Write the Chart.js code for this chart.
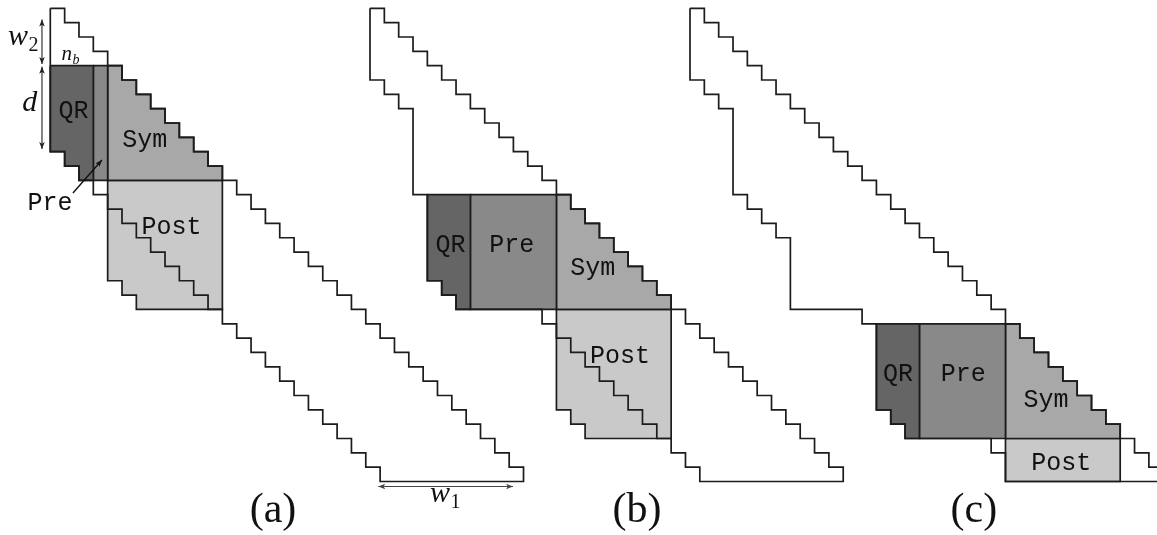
<!DOCTYPE html>
<html><head><meta charset="utf-8">
<script src="https://cdn.jsdelivr.net/npm/chart.js@4.4.0/dist/chart.umd.min.js"></script>
<style>html,body{margin:0;padding:0;background:#fff}#wrap{width:1157px;height:535px}</style>
</head><body><div id="wrap"><canvas id="cv" width="1157" height="535"></canvas></div>
<script>
// ---- data (grid units: one matrix column/row per unit) ----
const BAND_COLS = [0,1,2,3,4,5,6,7,8,9,10,11,12,13,14,15,16,17,18,19,20,21,22,23,24,25,26,27,28,29,30,31,32];
const BAND_TOP  = [0,1,2,3,4,5,6,7,8,9,10,11,12,13,14,15,16,17,18,19,20,21,22,23,24,25,26,27,28,29,30,31,32];
const BAND_BOT_A = [10,11,12,13,14,15,16,17,18,19,20,21,22,23,24,25,26,27,28,29,30,31,32,33,33,33,33,33,33,33,33,33,33];
const BAND_BOT_B = [5,6,7,13,19,20,21,21,21,21,21,21,22,23,24,25,26,27,28,29,30,31,32,33,33,33,33,33,33,33,33,33,33];
const BAND_BOT_C = [5,6,7,13,14,15,16,21,21,21,21,21,22,28,29,30,30,30,30,30,30,31,33,33,33,33,33,33,33,33,33,33,33];

// blocks: columns, column tops, column bottoms
const QR_A   = {cols:[0,1,2], top:[4,4,4], bot:[10,11,12]};
const PRE_A  = {cols:[3], top:[4], bot:[12]};
const SYM_A  = {cols:[4,5,6,7,8,9,10,11], top:[4,5,6,7,8,9,10,11], bot:[12,12,12,12,12,12,12,12]};
const POST_A = {cols:[4,5,6,7,8,9,10,11], top:[12,12,12,12,12,12,12,12], bot:[19,20,21,21,21,21,21,21]};

const QR_B   = {cols:[4,5,6], top:[13,13,13], bot:[19,20,21]};
const PRE_B  = {cols:[7,8,9,10,11,12], top:[13,13,13,13,13,13], bot:[21,21,21,21,21,21]};
const SYM_B  = {cols:[13,14,15,16,17,18,19,20], top:[13,14,15,16,17,18,19,20], bot:[21,21,21,21,21,21,21,21]};
const POST_B = {cols:[13,14,15,16,17,18,19,20], top:[21,21,21,21,21,21,21,21], bot:[28,29,30,30,30,30,30,30]};

const QR_C   = {cols:[13,14,15], top:[22,22,22], bot:[28,29,30]};
const PRE_C  = {cols:[16,17,18,19,20,21], top:[22,22,22,22,22,22], bot:[30,30,30,30,30,30]};
const SYM_C  = {cols:[22,23,24,25,26,27,28,29], top:[22,23,24,25,26,27,28,29], bot:[30,30,30,30,30,30,30,30]};
const POST_C = {cols:[22,23,24,25,26,27,28,29], top:[30,30,30,30,30,30,30,30], bot:[33,33,33,33,33,33,33,33]};

const BLOCK_NAMES = ['QR','Pre','Sym','Post'];
const LABELS_A = [['QR',1.62,7.65],['Sym',6.58,9.65],['Post',8.45,15.74],['Pre',-0.02,14.07]];
const LABELS_B = [['QR',5.61,16.97],['Pre',9.89,16.97],['Sym',15.53,18.6],['Post',17.43,24.76]];
const LABELS_C = [['QR',14.5,25.99],['Pre',19.06,25.99],['Sym',24.83,27.82],['Post',25.89,32.2]];
const CAPTIONS = ['(a)','(b)','(c)'];

// ---- layout / style ----
const W = 1157, H = 535, U = 14.34;
const PANEL_X = [50.3, 370, 690], TOP_Y = 8.3;
const OFF = PANEL_X.map(p => (p - PANEL_X[0]) / U);
const FILL = {QR:'#656565', Pre:'#898989', Sym:'#a8a8a8', Post:'#c9c9c9'};
const LINE = '#1c1c1c';

function poly(cols, tops, bots, off) {
  const pts = [];
  for (let i = 0; i < cols.length; i++) {
    pts.push({x: cols[i] + off, y: tops[i]}, {x: cols[i] + 1 + off, y: tops[i]});
  }
  for (let i = cols.length - 1; i >= 0; i--) {
    pts.push({x: cols[i] + 1 + off, y: bots[i]}, {x: cols[i] + off, y: bots[i]});
  }
  pts.push({x: pts[0].x, y: pts[0].y});
  return pts;
}

const datasets = [];
[BAND_BOT_A, BAND_BOT_B, BAND_BOT_C].forEach((bot, p) => {
  datasets.push({data: poly(BAND_COLS, BAND_TOP, bot, OFF[p]), borderColor: LINE, borderWidth: 1.7,
    fill: false, pointRadius: 0, tension: 0, order: 0});
});
[[QR_A,PRE_A,SYM_A,POST_A],[QR_B,PRE_B,SYM_B,POST_B],[QR_C,PRE_C,SYM_C,POST_C]].forEach((blocks, p) => {
  blocks.forEach((b, k) => {
    datasets.push({data: poly(b.cols, b.top, b.bot, OFF[p]), borderColor: LINE, borderWidth: 1.7,
      backgroundColor: FILL[BLOCK_NAMES[k]], fill: 'shape', pointRadius: 0, tension: 0, order: 1});
  });
});

function arrow(ctx, x1, y1, x2, y2, heads, color, lw) {
  ctx.save();
  ctx.strokeStyle = color; ctx.fillStyle = color; ctx.lineWidth = lw;
  ctx.beginPath(); ctx.moveTo(x1, y1); ctx.lineTo(x2, y2); ctx.stroke();
  const drawHead = (xa, ya, xb, yb) => {
    const a = Math.atan2(yb - ya, xb - xa), L = 7, Wd = 2.8;
    ctx.beginPath();
    ctx.moveTo(xb, yb);
    ctx.lineTo(xb - L * Math.cos(a) + Wd * Math.sin(a), yb - L * Math.sin(a) - Wd * Math.cos(a));
    ctx.lineTo(xb - L * 0.75 * Math.cos(a), yb - L * 0.75 * Math.sin(a));
    ctx.lineTo(xb - L * Math.cos(a) - Wd * Math.sin(a), yb - L * Math.sin(a) + Wd * Math.cos(a));
    ctx.closePath(); ctx.fill();
  };
  if (heads.includes('end')) drawHead(x1, y1, x2, y2);
  if (heads.includes('start')) drawHead(x2, y2, x1, y1);
  ctx.restore();
}

const annot = {
  id: 'annot',
  afterDatasetsDraw(chart) {
    const ctx = chart.ctx, xs = chart.scales.x, ys = chart.scales.y;
    const X = (p, g) => xs.getPixelForValue(g + OFF[p]);
    const Y = g => ys.getPixelForValue(g);
    ctx.save();
    ctx.fillStyle = '#111';
    ctx.textAlign = 'center'; ctx.textBaseline = 'alphabetic';
    ctx.font = '25px "Liberation Mono", "DejaVu Sans Mono", monospace';
    [LABELS_A, LABELS_B, LABELS_C].forEach((labs, p) => {
      labs.forEach(([t, gx, gy]) => ctx.fillText(t, X(p, gx), Y(gy)));
    });
    // captions
    ctx.font = '42px "Liberation Serif", "DejaVu Serif", serif';
    const capPos = [[0, 15.53], [1, 18.62], [2, 19.8]];
    capPos.forEach(([p, gx], i) => ctx.fillText(CAPTIONS[i], X(p, gx), Y(35.82)));
    // math labels
    ctx.textAlign = 'left';
    const sub = (base, s, gx, gy, size) => {
      ctx.font = 'italic ' + size + 'px "Liberation Serif", serif';
      const x = X(0, gx), y = Y(gy);
      ctx.fillText(base, x, y);
      const w = ctx.measureText(base).width;
      ctx.font = (s === 'b' ? 'italic ' : '') + Math.round(size * 0.68) + 'px "Liberation Serif", serif';
      ctx.fillText(s, x + w + 0.5, y + size * 0.2);
    };
    sub('w', '2', -2.95, 2.56, 30);
    sub('w', '1', 26.48, 34.45, 30);
    sub('n', 'b', 0.78, 3.6, 21);
    ctx.font = 'italic 30px "Liberation Serif", serif';
    ctx.fillText('d', X(0, -1.95), Y(7.16));
    ctx.restore();
    // arrows
    arrow(ctx, X(0, -0.58), Y(0.78), X(0, -0.58), Y(3.88), ['start','end'], '#222', 1.1);
    arrow(ctx, X(0, -0.58), Y(4.07), X(0, -0.58), Y(9.81), ['start','end'], '#222', 1.1);
    arrow(ctx, X(0, 22.87), Y(33.35), X(0, 32.27), Y(33.35), ['start','end'], '#444', 1.1);
    arrow(ctx, X(0, 1.58), Y(12.88), X(0, 3.6), Y(10.58), ['end'], '#111', 1.4);
  }
};

new Chart(document.getElementById('cv'), {
  type: 'line',
  data: {datasets},
  options: {
    responsive: false, animation: false,
    layout: {padding: 0},
    plugins: {legend: {display: false}, tooltip: {enabled: false}},
    scales: {
      x: {type: 'linear', display: false, min: -PANEL_X[0] / U, max: (W - PANEL_X[0]) / U},
      y: {type: 'linear', display: false, reverse: true, min: -TOP_Y / U, max: (H - TOP_Y) / U}
    }
  },
  plugins: [annot]
});
</script></body></html>
